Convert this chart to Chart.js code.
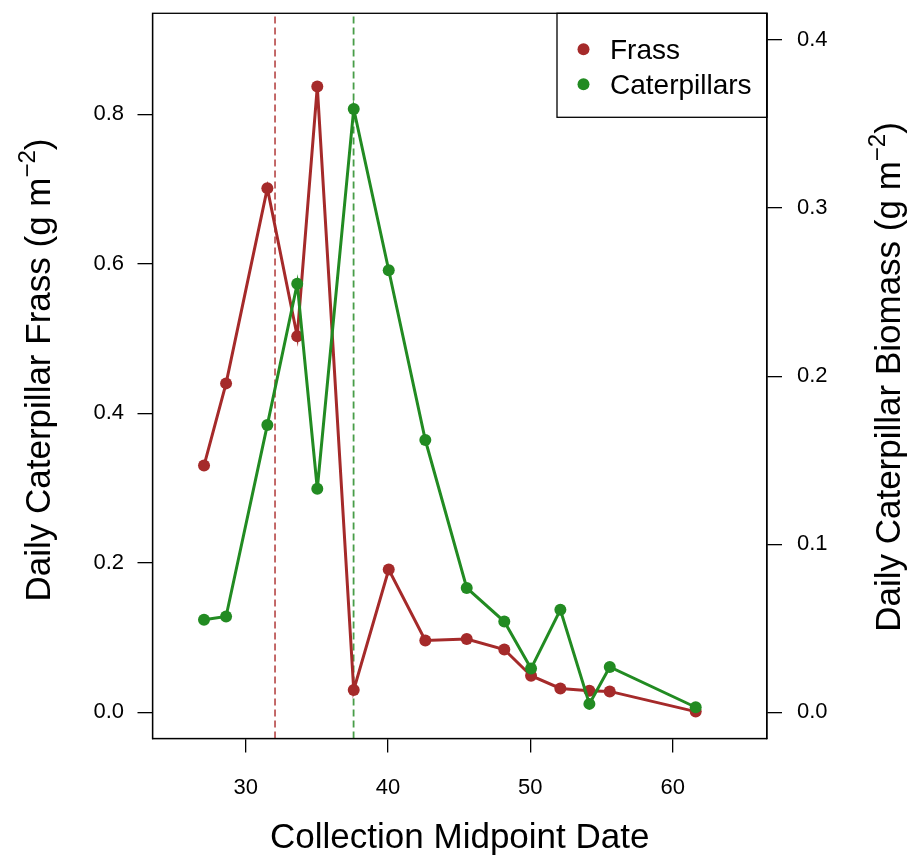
<!DOCTYPE html>
<html>
<head>
<meta charset="utf-8">
<script src="https://cdn.jsdelivr.net/npm/chart.js@4.4.1/dist/chart.umd.min.js"></script>
<style>
  html, body { margin: 0; padding: 0; background: #ffffff; }
  #wrap { width: 910px; height: 856px; }
</style>
</head>
<body>
<div id="wrap"><canvas id="c" width="910" height="856"></canvas></div>
<script>
// ---- data ----
const dates = [27.07, 28.62, 31.52, 33.62, 35.03, 37.59, 40.05, 42.62, 45.53, 48.17, 50.05, 52.11, 54.15, 55.58, 61.62];
const frass = [0.330, 0.440, 0.701, 0.503, 0.837, 0.030, 0.191, 0.096, 0.098, 0.084, 0.049, 0.032, 0.029, 0.028, 0.001];
const caterpillars = [0.055, 0.057, 0.171, 0.255, 0.133, 0.359, 0.263, 0.162, 0.074, 0.054, 0.026, 0.061, 0.005, 0.027, 0.003];
const frassPeakDate = 32.06;
const caterpillarPeakDate = 37.58;
const xTicks = [30, 40, 50, 60];
const yLeftTicks = [0.0, 0.2, 0.4, 0.6, 0.8];
const yRightTicks = [0.0, 0.1, 0.2, 0.3, 0.4];
const seriesLabels = ['Frass', 'Caterpillars'];
const xTitle = 'Collection Midpoint Date';
const yLeftTitle = ['Daily Caterpillar Frass (g m', '\u22122', ')'];
const yRightTitle = ['Daily Caterpillar Biomass (g m', '\u22122', ')'];

// ---- ranges ----
const xRange = [23.45, 66.63];
const yLeftRange = [-0.035, 0.935];
const yRightRange = [-0.0156, 0.4159];

const RED = '#A52A2A';
const GREEN = '#228B22';
const FONT = "'Liberation Sans', Arimo, Arial, Helvetica, sans-serif";

Chart.defaults.font.family = FONT;
Chart.defaults.color = '#000';

const toXY = (ys) => dates.map((d, i) => ({ x: d, y: ys[i] }));

const setTicks = (vals) => (scale) => { scale.ticks = vals.map(v => ({ value: v })); };
const fitV = (w) => (s) => { s.width = w; s.paddingTop = 0; s.paddingBottom = 0; };
const fitH = (h) => (s) => { s.height = h; s.paddingLeft = 0; s.paddingRight = 0; };

const decorPlugin = {
  id: 'decor',
  afterDraw(chart) {
    const { ctx, chartArea: a } = chart;
    ctx.save();
    // box
    ctx.strokeStyle = '#000';
    ctx.lineWidth = 1.3;
    ctx.strokeRect(a.left, a.top, a.right - a.left, a.bottom - a.top);

    // legend (top-right inside plot)
    const lw = 210, lh = 104;
    const lx = a.right - lw, ly = a.top;
    ctx.strokeRect(lx, ly, lw, lh);
    const items = chart.data.datasets.filter(d => d.inLegend);
    ctx.font = '28px ' + FONT;
    ctx.textBaseline = 'middle';
    ctx.textAlign = 'left';
    items.forEach((d, i) => {
      const cy = ly + 36 + i * 35;
      ctx.fillStyle = d.borderColor;
      ctx.beginPath();
      ctx.arc(lx + 26.5, cy, 6, 0, Math.PI * 2);
      ctx.fill();
      ctx.fillStyle = '#000';
      ctx.fillText(d.label, lx + 53, cy + 2);
    });

    // vertical titles with superscript
    const drawV = (parts, bx, cy) => {
      const base = '35px ' + FONT, sup = '24px ' + FONT;
      ctx.font = base; const w1 = ctx.measureText(parts[0]).width; const w3 = ctx.measureText(parts[2]).width;
      ctx.font = sup; const w2 = ctx.measureText(parts[1]).width;
      const total = w1 + w2 + w3;
      ctx.save();
      ctx.translate(bx, cy);
      ctx.rotate(-Math.PI / 2);
      ctx.fillStyle = '#000';
      ctx.textAlign = 'left';
      ctx.textBaseline = 'alphabetic';
      let x0 = -total / 2;
      ctx.font = base; ctx.fillText(parts[0], x0, 0); x0 += w1;
      ctx.font = sup; ctx.fillText(parts[1], x0, -15); x0 += w2;
      ctx.font = base; ctx.fillText(parts[2], x0, 0);
      ctx.restore();
    };
    drawV(yLeftTitle, 50, 370);
    drawV(yRightTitle, 900, 377);
    ctx.restore();
  }
};

new Chart(document.getElementById('c'), {
  type: 'line',
  data: {
    datasets: [
      {
        label: seriesLabels[0], inLegend: true, data: toXY(frass), yAxisID: 'y',
        borderColor: RED, backgroundColor: RED, borderWidth: 3,
        pointRadius: 6, pointHoverRadius: 6, pointBorderWidth: 0, pointBackgroundColor: RED,
        order: 2, tension: 0
      },
      {
        label: seriesLabels[1], inLegend: true, data: toXY(caterpillars), yAxisID: 'y2',
        borderColor: GREEN, backgroundColor: GREEN, borderWidth: 3,
        pointRadius: 6, pointHoverRadius: 6, pointBorderWidth: 0, pointBackgroundColor: GREEN,
        order: 1, tension: 0
      },
      {
        label: 'Frass peak', data: [{ x: frassPeakDate, y: yLeftRange[0] }, { x: frassPeakDate, y: yLeftRange[1] }],
        yAxisID: 'y', borderColor: 'rgba(178,60,60,0.85)', borderWidth: 1.8, borderDash: [7, 4],
        pointRadius: 0, order: 4
      },
      {
        label: 'Caterpillar peak', data: [{ x: caterpillarPeakDate, y: yLeftRange[0] }, { x: caterpillarPeakDate, y: yLeftRange[1] }],
        yAxisID: 'y', borderColor: 'rgba(40,140,40,0.85)', borderWidth: 1.8, borderDash: [7, 4],
        pointRadius: 0, order: 3
      }
    ]
  },
  options: {
    responsive: false,
    animation: false,
    devicePixelRatio: 1,
    layout: { padding: { top: 13.3, left: 0, right: 0, bottom: 0 } },
    plugins: { legend: { display: false }, tooltip: { enabled: false } },
    scales: {
      x: {
        type: 'linear', position: 'bottom', min: xRange[0], max: xRange[1],
        afterBuildTicks: setTicks(xTicks),
        afterFit: fitH(117.5),
        grid: { drawOnChartArea: false, drawTicks: true, tickLength: 14, color: '#000', lineWidth: 1.3 },
        border: { display: true, color: '#000', width: 1.3 },
        ticks: { padding: 22, font: { size: 22 }, color: '#000', maxRotation: 0, callback: (v) => String(v) },
        title: { display: true, text: xTitle, font: { size: 35, lineHeight: 1 }, color: '#000', padding: { top: 0, bottom: 0.5 } }
      },
      y: {
        type: 'linear', position: 'left', min: yLeftRange[0], max: yLeftRange[1],
        afterBuildTicks: setTicks(yLeftTicks),
        afterFit: fitV(152.5),
        grid: { drawOnChartArea: false, drawTicks: true, tickLength: 15, color: '#000', lineWidth: 1.3 },
        border: { display: true, color: '#000', width: 1.3 },
        ticks: { padding: 13.5, font: { size: 22 }, color: '#000', callback: (v) => Number(v).toFixed(1) }
      },
      y2: {
        type: 'linear', position: 'right', min: yRightRange[0], max: yRightRange[1],
        afterBuildTicks: setTicks(yRightTicks),
        afterFit: fitV(143),
        grid: { drawOnChartArea: false, drawTicks: true, tickLength: 15, color: '#000', lineWidth: 1.3 },
        border: { display: true, color: '#000', width: 1.3 },
        ticks: { padding: 15, font: { size: 22 }, color: '#000', callback: (v) => Number(v).toFixed(1) }
      }
    }
  },
  plugins: [decorPlugin]
});
</script>
</body>
</html>
